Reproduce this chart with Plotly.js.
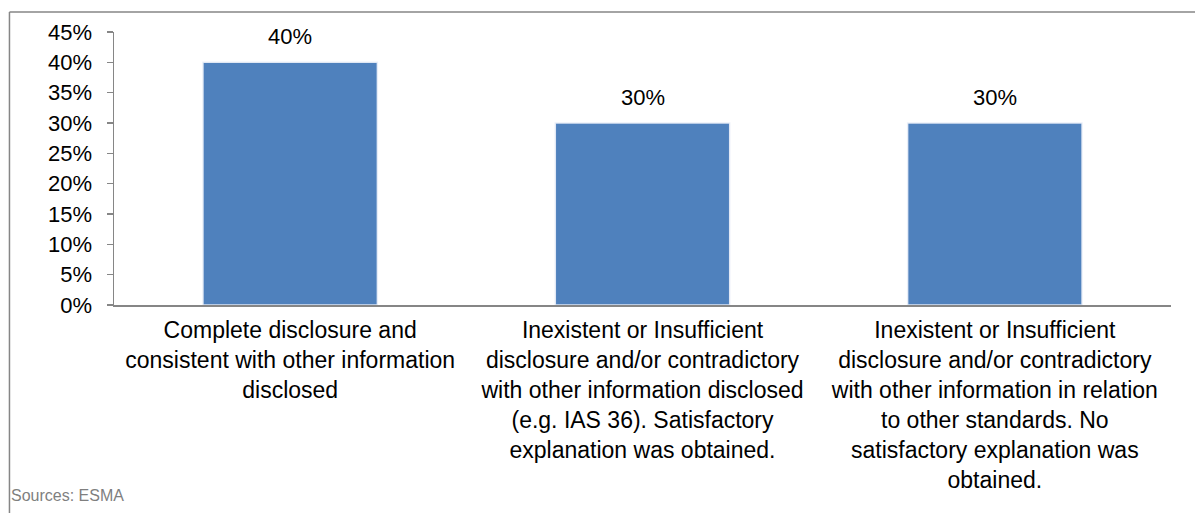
<!DOCTYPE html>
<html>
<head>
<meta charset="utf-8">
<script src="https://cdn.plot.ly/plotly-3.0.1.min.js"></script>
<style>
  html, body { margin: 0; padding: 0; background: #fff; }
  #chart { width: 1195px; height: 513px; }
</style>
</head>
<body>
<div id="chart"></div>
<script>
// Categories (wrapped with <br> for the axis)
const categories = [
  "Complete disclosure and<br>consistent with other information<br>disclosed",
  "Inexistent or Insufficient<br>disclosure and/or contradictory<br>with other information disclosed<br>(e.g. IAS 36). Satisfactory<br>explanation was obtained.",
  "Inexistent or Insufficient<br>disclosure and/or contradictory<br>with other information in relation<br>to other standards. No<br>satisfactory explanation was<br>obtained."
];
// Share of issuers per category
const shares = [0.40, 0.30, 0.30];
// Y axis ticks
const yTickVals = [0, 0.05, 0.10, 0.15, 0.20, 0.25, 0.30, 0.35, 0.40, 0.45];
const yTickText = ["0%", "5%", "10%", "15%", "20%", "25%", "30%", "35%", "40%", "45%"];
const sourceNote = "Sources: ESMA";

const FONT = "Liberation Sans, Arial, sans-serif";
const AXIS_GREY = "#868686";

const barTrace = {
  type: "bar",
  x: categories,
  y: shares,
  marker: {
    color: "#4F81BD",
    line: { color: "rgba(235,240,248,0.9)", width: 1.5 }
  },
  hoverinfo: "skip"
};

// Value labels above each bar
const valueLabels = categories.map((c, i) => ({
  x: c,
  y: shares[i],
  xref: "x",
  yref: "y",
  text: Math.round(shares[i] * 100) + "%",
  showarrow: false,
  yanchor: "bottom",
  yshift: 11,
  font: { family: FONT, size: 22, color: "#000" }
}));

const layout = {
  width: 1195,
  height: 513,
  margin: { l: 114, r: 24, t: 32, b: 208 },
  paper_bgcolor: "#fff",
  plot_bgcolor: "#fff",
  showlegend: false,
  bargap: 0.505,
  font: { family: FONT, color: "#000" },
  xaxis: {
    type: "category",
    showline: true,
    linecolor: AXIS_GREY,
    linewidth: 1.5,
    ticks: "",
    showgrid: false,
    zeroline: false,
    tickfont: { family: FONT, size: 23, color: "#000" },
    ticklabelstandoff: 4,
    fixedrange: true
  },
  yaxis: {
    range: [0, 0.45],
    tickvals: yTickVals,
    ticktext: yTickText,
    showline: true,
    linecolor: AXIS_GREY,
    linewidth: 1.5,
    ticks: "outside",
    ticklen: 6,
    tickcolor: AXIS_GREY,
    tickwidth: 1.5,
    showgrid: false,
    zeroline: false,
    tickfont: { family: FONT, size: 22, color: "#000" },
    ticklabelstandoff: 10,
    fixedrange: true
  },
  annotations: valueLabels.concat([{
    xref: "paper",
    yref: "paper",
    x: -0.0995,
    y: -0.697,
    xanchor: "left",
    yanchor: "middle",
    text: sourceNote,
    showarrow: false,
    font: { family: FONT, size: 16, color: "#7f7f7f" }
  }]),
  shapes: [
    // chart frame: top and left edges
    { type: "line", xref: "paper", yref: "paper", x0: -0.0989, x1: 1.03, y0: 1.0733, y1: 1.0733,
      line: { color: "#868686", width: 1.5 } },
    { type: "line", xref: "paper", yref: "paper", x0: -0.0989, x1: -0.0989, y0: 1.0733, y1: -0.77,
      line: { color: "#868686", width: 1.5 } }
  ]
};

Plotly.newPlot("chart", [barTrace], layout, { displayModeBar: false, staticPlot: true });
</script>
</body>
</html>
